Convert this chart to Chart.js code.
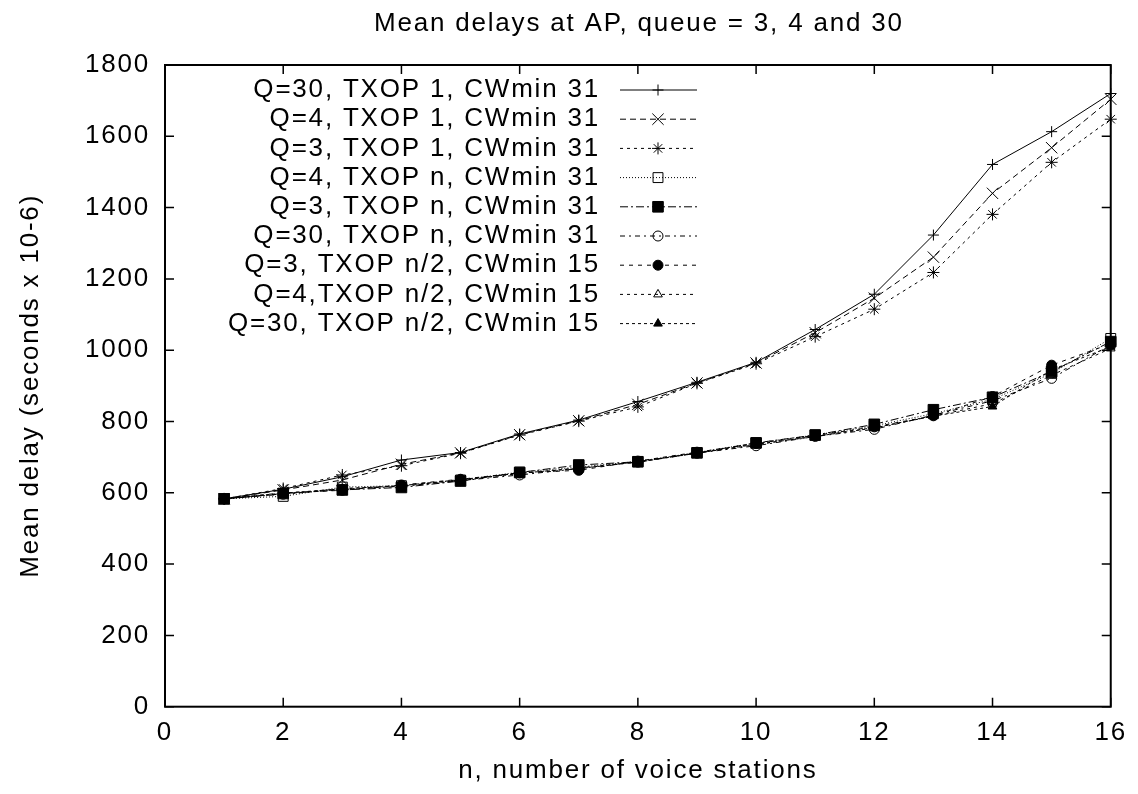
<!DOCTYPE html>
<html><head><meta charset="utf-8">
<script src="https://cdn.jsdelivr.net/npm/chart.js@4.4.1/dist/chart.umd.min.js"></script>
<style>html,body{margin:0;padding:0;background:#fff;}#wrap{width:1138px;height:794px;}</style>
</head><body><div id="wrap"><canvas id="c" width="1138" height="794"></canvas></div>
<script>
const nValues = [1,2,3,4,5,6,7,8,9,10,11,12,13,14,15,16];
const xTickValues = [0,2,4,6,8,10,12,14,16];
const yTickValues = [0,200,400,600,800,1000,1200,1400,1600,1800];
const chartTitle = 'Mean delays at AP, queue = 3, 4 and 30';
const seriesLabels = [
  'Q=30, TXOP 1, CWmin 31','Q=4, TXOP 1, CWmin 31','Q=3, TXOP 1, CWmin 31',
  'Q=4, TXOP n, CWmin 31','Q=3, TXOP n, CWmin 31','Q=30, TXOP n, CWmin 31',
  'Q=3, TXOP n/2, CWmin 15','Q=4,TXOP n/2, CWmin 15','Q=30, TXOP n/2, CWmin 15'
];
const q30Txop1 = [583,610,645,692,713,765,804,856,910,966,1058,1157,1323,1521,1613,1720];
const q4Txop1  = [583,608,636,680,712,763,802,848,908,964,1049,1146,1261,1440,1568,1704];
const q3Txop1  = [583,612,650,676,711,762,801,841,907,962,1038,1115,1218,1381,1527,1648];
const q4TxopN  = [583,590,616,620,636,658,672,688,713,740,762,788,822,862,935,1033];
const q3TxopN  = [583,598,608,615,633,657,678,687,712,740,762,792,833,868,940,1024];
const q30TxopN = [583,596,610,618,634,650,668,686,711,732,758,778,818,858,921,1015];
const q3TxopHalf  = [583,600,607,622,638,656,663,689,714,738,761,785,816,870,958,1018];
const q4TxopHalf  = [583,597,612,619,635,654,670,686,712,735,759,783,815,850,930,1005];
const q30TxopHalf = [583,599,611,620,637,655,668,687,711,736,758,782,815,842,945,1010];

const FONT = "'Liberation Sans', Arial, Helvetica, sans-serif";
const FSIZE = 26;
const LS = '1.8px';
const fnt = {family: FONT, size: FSIZE, weight: 'normal'};

const seriesValues = [q30Txop1,q4Txop1,q3Txop1,q4TxopN,q3TxopN,q30TxopN,q3TxopHalf,q4TxopHalf,q30TxopHalf];
const styles = [
  {dash: [], ps: 'cross', r: 5.5, fill: 'rgba(0,0,0,0)'},
  {dash: [6,4], ps: 'crossRot', r: 8, fill: 'rgba(0,0,0,0)'},
  {dash: [3,4], ps: 'star', r: 6, fill: 'rgba(0,0,0,0)'},
  {dash: [1,2], ps: 'rect', r: 7, fill: 'rgba(0,0,0,0)'},
  {dash: [8,3,2,3], ps: 'rect', r: 7.5, fill: '#000'},
  {dash: [5,4,2,4], ps: 'circle', r: 5, fill: 'rgba(0,0,0,0)'},
  {dash: [4,5], ps: 'circle', r: 5, fill: '#000'},
  {dash: [3,4], ps: 'triangle', r: 5, fill: 'rgba(0,0,0,0)'},
  {dash: [3,3], ps: 'triangle', r: 5, fill: '#000'}
];

const datasets = seriesValues.map((vals, i) => ({
  label: seriesLabels[i],
  data: nValues.map((n, k) => ({x: n, y: vals[k]})),
  borderColor: '#000',
  borderWidth: 1,
  borderDash: styles[i].dash,
  pointStyle: styles[i].ps,
  pointRadius: styles[i].r,
  pointBorderWidth: 1,
  pointBorderColor: '#000',
  pointBackgroundColor: styles[i].fill,
  backgroundColor: styles[i].fill,
  fill: false,
  tension: 0,
  clip: false,
  order: -i
}));

const spacingPlugin = {
  id: 'spacing',
  beforeLayout(chart) { chart.ctx.letterSpacing = LS; },
  beforeDraw(chart) { chart.ctx.letterSpacing = LS; }
};

const framePlugin = {
  id: 'frame',
  beforeDatasetsDraw(chart) {
    const {ctx, chartArea: a, scales: {x, y}} = chart;
    ctx.save();
    ctx.strokeStyle = '#000';
    ctx.setLineDash([]);
    ctx.lineWidth = 2;
    ctx.strokeRect(a.left, a.top, a.right - a.left, a.bottom - a.top);
    ctx.lineWidth = 1.5;
    ctx.beginPath();
    x.ticks.forEach(t => {
      const px = x.getPixelForValue(t.value);
      ctx.moveTo(px, a.bottom); ctx.lineTo(px, a.bottom - 9);
      ctx.moveTo(px, a.top); ctx.lineTo(px, a.top + 9);
    });
    y.ticks.forEach(t => {
      const py = y.getPixelForValue(t.value);
      ctx.moveTo(a.left, py); ctx.lineTo(a.left + 9, py);
      ctx.moveTo(a.right, py); ctx.lineTo(a.right - 9, py);
    });
    ctx.stroke();
    ctx.restore();
  }
};

const keyPlugin = {
  id: 'key',
  afterDraw(chart) {
    const ctx = chart.ctx;
    const a = chart.chartArea;
    ctx.save();
    ctx.letterSpacing = LS;
    ctx.font = FSIZE + 'px ' + FONT;
    ctx.fillStyle = '#000';
    ctx.textAlign = 'center';
    ctx.textBaseline = 'middle';
    ctx.fillText(chartTitle, (a.left + a.right) / 2 + 1, 24);
    chart.data.datasets.forEach((ds, i) => {
      const yy = 90 + i * 29.2;
      ctx.font = FSIZE + 'px ' + FONT;
      ctx.fillStyle = '#000';
      ctx.textAlign = 'right';
      ctx.textBaseline = 'middle';
      ctx.fillText(ds.label, 600, yy);
      ctx.strokeStyle = '#000';
      ctx.lineWidth = 1;
      ctx.setLineDash(ds.borderDash || []);
      ctx.beginPath();
      ctx.moveTo(620, yy); ctx.lineTo(697, yy);
      ctx.stroke();
      ctx.setLineDash([]);
      ctx.fillStyle = ds.pointBackgroundColor;
      Chart.helpers.drawPoint(ctx, {pointStyle: ds.pointStyle, radius: ds.pointRadius, rotation: 0, borderWidth: 1}, 658, yy);
    });
    ctx.restore();
  }
};

new Chart(document.getElementById('c'), {
  type: 'line',
  data: {datasets},
  options: {
    responsive: false,
    animation: false,
    devicePixelRatio: 1,
    layout: {padding: {left: 0, right: 24, top: 65, bottom: 0}},
    plugins: {
      legend: {display: false},
      tooltip: {enabled: false},
      title: {display: false}
    },
    scales: {
      x: {
        type: 'linear', min: 0, max: 16,
        afterBuildTicks: s => { s.ticks = xTickValues.map(v => ({value: v})); },
        ticks: {color: '#000', font: fnt, padding: 11, maxRotation: 0, autoSkip: false, callback: v => String(v)},
        grid: {display: false, drawTicks: false},
        border: {display: false},
        title: {display: true, text: 'n, number of voice stations', color: '#000', font: fnt, padding: {top: 0, bottom: 7.5}},
        afterFit: s => { s.height = 87.3; }
      },
      y: {
        type: 'linear', min: 0, max: 1800,
        afterBuildTicks: s => { s.ticks = yTickValues.map(v => ({value: v})); },
        ticks: {color: '#000', font: fnt, padding: 15, autoSkip: false, callback: v => String(v)},
        grid: {display: false, drawTicks: false},
        border: {display: false},
        title: {display: true, text: 'Mean delay (seconds x 10-6)', color: '#000', font: fnt, padding: {top: 15, bottom: 0}},
        afterFit: s => { s.width = 165; }
      }
    }
  },
  plugins: [spacingPlugin, framePlugin, keyPlugin]
});
</script></body></html>
